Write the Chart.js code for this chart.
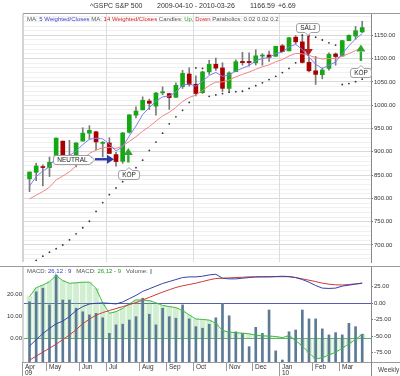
<!DOCTYPE html>
<html><head><meta charset="utf-8">
<script src="https://cdn.jsdelivr.net/npm/chart.js@4.4.1/dist/chart.umd.min.js"></script>
<style>
html,body{margin:0;padding:0;background:#fff;}
#wrap{position:relative;width:400px;height:376px;overflow:hidden;background:#fff;font-family:"Liberation Sans",Arial,sans-serif;color:#333;}
canvas{position:absolute;left:0;}
#c1{top:0;}
#c2{top:266px;}
.lbl{position:absolute;white-space:nowrap;font-size:6.5px;line-height:8px;color:#333;}
.g{color:#555}.b{color:#3838c8}.r{color:#d42020}.gr{color:#20a020}.vb{color:#5a7894}
</style></head>
<body><div id="wrap">
<canvas id="c1" width="400" height="266"></canvas>
<canvas id="c2" width="400" height="110"></canvas>
<div class="lbl" style="left:90px;top:2px;font-size:7px">^GSPC</div>
<div class="lbl" style="left:115px;top:2px;font-size:7px">S&amp;P 500</div>
<div class="lbl" style="left:157px;top:2px;font-size:7px">2009-04-10 - 2010-03-26</div>
<div class="lbl" style="left:250px;top:2px;font-size:7px">1166.59</div>
<div class="lbl" style="left:278px;top:2px;font-size:7px">+6.69</div>
<div class="lbl" style="left:27px;top:15px;font-size:6px"><span class="g">MA: </span><span class="b">5 Weighted/Closes</span><span class="g"> MA: </span><span class="r">14 Weighted/Closes</span><span class="g"> Candles: </span><span class="gr">Up</span><span class="g">, </span><span class="r">Down</span><span class="g"> Parabolics: 0.02 0.02 0.2</span></div>
<div class="lbl" style="left:27px;top:267px;font-size:6px"><span class="g">MACD: </span><span class="b">26,12 : 9</span><span class="g">&nbsp;&nbsp; MACD: </span><span class="gr">26,12 - 9</span><span class="g">&nbsp;&nbsp; Volume: </span><span class="vb">||</span></div>
</div>
<script>
// ---------- data ----------
const weeks = ['2009-04-10','2009-04-17','2009-04-24','2009-05-01','2009-05-08','2009-05-15','2009-05-22','2009-05-29','2009-06-05','2009-06-12','2009-06-19','2009-06-26','2009-07-03','2009-07-10','2009-07-17','2009-07-24','2009-07-31','2009-08-07','2009-08-14','2009-08-21','2009-08-28','2009-09-04','2009-09-11','2009-09-18','2009-09-25','2009-10-02','2009-10-09','2009-10-16','2009-10-23','2009-10-30','2009-11-06','2009-11-13','2009-11-20','2009-11-27','2009-12-04','2009-12-11','2009-12-18','2009-12-25','2010-01-01','2010-01-08','2010-01-15','2010-01-22','2010-01-29','2010-02-05','2010-02-12','2010-02-19','2010-02-26','2010-03-05','2010-03-12','2010-03-19','2010-03-26'];
const open  = [842.0,856.0,868.0,866.0,879.0,923.0,886.0,887.0,923.0,940.0,943.0,918.1,919.0,894.0,879.6,942.0,978.6,990.0,1008.9,998.0,1026.6,1025.0,1017.0,1040.0,1067.0,1045.0,1026.9,1071.6,1088.0,1080.0,1036.0,1072.0,1094.0,1094.0,1091.0,1105.5,1107.8,1105.0,1127.5,1116.6,1146.0,1136.0,1092.0,1073.9,1065.5,1079.0,1110.0,1105.4,1138.4,1148.5,1157.3];
const high  = [856.9,875.6,871.8,888.7,930.2,923.0,924.6,920.0,951.7,956.2,944.0,922.0,930.2,898.7,941.9,979.8,996.7,1018.0,1013.1,1027.6,1039.5,1025.0,1048.2,1074.8,1080.2,1063.0,1073.2,1096.6,1101.4,1091.2,1071.5,1097.4,1113.7,1112.4,1119.1,1110.7,1116.2,1126.5,1130.4,1145.4,1149.7,1150.5,1103.7,1104.7,1080.0,1112.4,1112.3,1139.0,1151.0,1169.2,1180.2];
const low   = [814.5,838.0,826.8,847.0,878.9,878.9,879.6,867.6,923.0,927.0,903.8,888.9,896.4,869.3,875.3,940.2,972.5,990.0,990.7,978.5,1022.5,991.0,1017.0,1036.0,1041.0,1020.0,1025.2,1066.0,1074.6,1029.4,1029.4,1072.0,1086.0,1083.7,1086.3,1085.9,1093.9,1105.0,1114.8,1116.6,1131.4,1090.2,1071.6,1044.5,1056.5,1075.5,1086.0,1105.4,1138.4,1141.5,1156.0];
const close = [856.6,869.6,866.2,877.5,929.2,882.9,887.0,919.1,940.1,946.2,921.2,918.9,896.4,879.1,940.4,979.3,987.5,1010.5,1004.1,1026.1,1028.9,1016.4,1042.7,1068.3,1044.4,1025.2,1071.5,1087.7,1079.6,1036.2,1069.3,1093.5,1091.4,1091.5,1106.0,1106.4,1102.5,1126.5,1115.1,1145.0,1136.0,1091.8,1073.9,1066.2,1075.5,1109.2,1104.5,1138.7,1150.0,1159.9,1166.6];
const wma5  = [826.3,846.8,858.7,867.8,890.0,891.1,891.7,901.9,915.5,927.0,929.1,927.8,916.9,901.8,911.1,933.8,955.4,980.0,994.9,1008.8,1018.0,1019.6,1028.1,1043.0,1045.7,1040.7,1051.4,1063.8,1070.5,1062.0,1065.1,1073.3,1079.4,1085.2,1095.1,1100.5,1102.0,1111.0,1113.9,1125.1,1130.7,1119.6,1103.3,1087.9,1078.9,1085.7,1092.8,1110.4,1127.5,1142.3,1153.6];
const wma14 = [798.8,806.9,814.7,824.0,839.6,848.1,857.1,869.7,883.7,896.6,903.6,908.8,909.5,907.2,912.7,922.5,932.4,944.3,954.0,965.9,976.9,984.8,995.3,1008.2,1016.8,1021.7,1031.7,1042.2,1049.6,1050.0,1054.2,1060.8,1066.4,1071.1,1077.2,1082.6,1086.6,1093.3,1097.8,1105.7,1111.3,1110.3,1106.9,1102.5,1099.1,1100.1,1100.4,1105.1,1110.8,1117.5,1124.5];
const sar   = [null,667,676,684.5,692,700,711,724,737,751,772,791,808,822.5,836,851,866,882,903,921,940,960,975,989,1006,1080,1079,1019,1022,1025,1028,1029,1030,1036,1042,1048,1055,1062,1070,1079,1091,1150.5,1149,1146,1140,1134,1129,1044.5,1046.5,1050.5,1056];
const volume = [27.1,31.6,33.2,25.7,39.2,27.9,27.9,24.2,22.6,21.2,21.9,19.9,12.9,16.7,17.0,18.9,20.4,28.7,21.5,16.7,24.2,20.4,19.7,25.7,19.4,15.9,15.2,17.0,19.9,26.4,20.8,13.6,12.9,6.9,15.6,12.9,23.4,5.0,0.9,13.6,14.4,23.4,19.4,19.4,14.9,12.2,13.2,12.2,17.4,15.9,12.5];
const macd   = [-64.7,-55,-46,-38,-31,-27,-20,-11,-5,-1,0,0.5,0,-1,2,7,12,18,22,26,30,33,36,39,40,40,41,43,44,38,37,37,38,39,40,40,40,40.5,41,40.5,39,36,32,27,23,22.5,23,26,27.5,29,30.5];
const signal = [-86,-80,-74,-68,-62,-55,-48,-40,-31,-24,-18,-14,-11,-8,-5,-2,1,5,9,13,17,20.5,24,26.5,28.5,30.5,33,35.5,37.5,38,38.5,39,39.5,40,40,40.2,40.3,40.3,40.3,40.3,39,37,35,33,30.5,29,28,27.7,28.5,29.5,30.5];
const hist   = [18.8,22.8,24.0,25.5,28.2,26.0,24.8,25.0,25.3,25.3,22.5,16.0,11.3,12.0,13.5,15.5,17.3,17.2,17.0,16.0,14.8,14.3,13.8,12.5,10.5,8.7,8.5,8.2,6.8,3.5,2.8,2.5,2.3,2.0,1.4,1.1,1.0,0.8,0.3,1.2,-1.0,-3.5,-6.5,-9.3,-8.8,-7.5,-6.3,-4.5,-2.5,-0.5,1.8];
const monthNames = ['Apr','May','Jun','Jul','Aug','Sep','Oct','Nov','Dec','Jan','Feb','Mar'];
const monthFirstWeek = [0,3,8,12,17,21,25,30,34,38,43,47];
const yearLabels = {'Apr':'09','Jan':'10'};
const quarterMonths = ['Jul','Oct','Jan'];
const priceLabels = [700,750,800,850,900,950,1000,1050,1100,1150];
const macdLabels = [-75,-50,-25,0,25];
const histLabels = [0,10,20];
// trading signals: text, arrow tail (week index, price), arrow tip (week index, price)
const sigText  = ['NEUTRAL','KÖP','SÄLJ','KÖP'];
const sigTailX = [9.84,14.85,41.9,49.8];
const sigTailY = [884,877,1149.4,1095];
const sigTipX  = [12.7,14.85,41.9,49.8];
const sigTipY  = [884,908,1105.6,1130.3];

// ---------- helpers ----------
Chart.defaults.font.family = '"Liberation Sans", Arial, sans-serif';
const pts = arr => arr.map((v,i)=>({x:i,y:v}));
const FONT = '6.5px "Liberation Sans", Arial, sans-serif';
const X_MIN = -0.83, X_MAX = 51.32;

function roundBox(ctx,x,y,w,h,r,side,cx,cy){
  const p=3;
  ctx.beginPath();
  ctx.moveTo(x+r,y);
  if(side==='top'){ctx.lineTo(cx-p,y);ctx.lineTo(cx,y-p);ctx.lineTo(cx+p,y);}
  ctx.lineTo(x+w-r,y);ctx.arcTo(x+w,y,x+w,y+r,r);
  if(side==='right'){ctx.lineTo(x+w,cy-p);ctx.lineTo(x+w+p,cy);ctx.lineTo(x+w,cy+p);}
  ctx.lineTo(x+w,y+h-r);ctx.arcTo(x+w,y+h,x+w-r,y+h,r);
  if(side==='bottom'){ctx.lineTo(cx+p,y+h);ctx.lineTo(cx,y+h+p);ctx.lineTo(cx-p,y+h);}
  ctx.lineTo(x+r,y+h);ctx.arcTo(x,y+h,x,y+h-r,r);
  ctx.lineTo(x,y+r);ctx.arcTo(x,y,x+r,y,r);
  ctx.closePath();
}
function callout(ctx,cx,cy,text,side){
  ctx.font=FONT;
  const w=Math.ceil(ctx.measureText(text).width)+7,h=9;
  const x=Math.round(cx-w/2)+0.5,y=Math.round(cy-h/2)+0.5;
  roundBox(ctx,x,y,w,h,2.5,side,x+w/2,y+h/2);
  ctx.fillStyle='#fff';ctx.fill();ctx.strokeStyle='#a0a0a0';ctx.lineWidth=1;ctx.stroke();
  ctx.fillStyle='#222';ctx.textAlign='center';ctx.textBaseline='middle';
  ctx.fillText(text,x+w/2,y+h/2+0.5);
  return w;
}
function arrow(ctx,x0,y0,x1,y1,color){
  const a=Math.atan2(y1-y0,x1-x0),hl=7,hw=4.5;
  const bx=x1-hl*Math.cos(a),by=y1-hl*Math.sin(a);
  ctx.strokeStyle=color;ctx.lineWidth=2.4;ctx.lineCap='butt';
  ctx.beginPath();ctx.moveTo(x0,y0);ctx.lineTo(bx,by);ctx.stroke();
  ctx.fillStyle=color;ctx.beginPath();ctx.moveTo(x1,y1);
  ctx.lineTo(bx+hw*Math.sin(a),by-hw*Math.cos(a));
  ctx.lineTo(bx-hw*Math.sin(a),by+hw*Math.cos(a));
  ctx.closePath();ctx.fill();
}

// ---------- top chart plugin ----------
const topDeco = {
  id:'topDeco',
  beforeDatasetsDraw(chart){
    const {ctx,chartArea:ca,scales:{x}} = chart;
    ctx.save();
    ctx.strokeStyle='#dcdcdc';ctx.lineWidth=1;
    monthNames.forEach((m,k)=>{
      if(!quarterMonths.includes(m)) return;
      const px=Math.round(x.getPixelForValue(monthFirstWeek[k]-0.5))+0.5;
      ctx.beginPath();ctx.moveTo(px,ca.top);ctx.lineTo(px,ca.bottom);ctx.stroke();
    });
    ctx.restore();
  },
  afterDraw(chart){
    const {ctx,chartArea:ca,scales:{x,y}} = chart;
    ctx.save();
    ctx.strokeStyle='#9a9a9a';ctx.lineWidth=1;
    ctx.beginPath();ctx.moveTo(ca.left-1,ca.top-0.5);ctx.lineTo(chart.width,ca.top-0.5);ctx.stroke();
    ctx.fillStyle='#d4d4d4';ctx.fillRect(ca.left-2,ca.top,2,ca.bottom-ca.top);
    sigText.forEach((t,i)=>{
      const x0=x.getPixelForValue(sigTailX[i]),y0=y.getPixelForValue(sigTailY[i]);
      const x1=x.getPixelForValue(sigTipX[i]),y1=y.getPixelForValue(sigTipY[i]);
      let col,side,cx,cy;
      if(Math.abs(y1-y0)<1){col='#2b3aa6';side='right';}
      else if(y1<y0){col='#2fa52f';side='top';}
      else {col='#b51a1a';side='bottom';}
      arrow(ctx,x0,y0,x1,y1,col);
      ctx.font=FONT;
      const w=Math.ceil(ctx.measureText(t).width)+7;
      if(side==='right'){cx=x0-4-w/2;cy=y0;}
      else if(side==='top'){cx=x0;cy=y0+12;}
      else {cx=x0-1;cy=y0-8;}
      callout(ctx,cx,cy,t,side);
    });
    ctx.restore();
  }
};

// ---------- bottom chart plugin ----------
const botDeco = {
  id:'botDeco',
  afterDraw(chart){
    const {ctx,chartArea:ca,scales:{x}} = chart;
    const H=chart.height,W=chart.width;
    ctx.save();
    ctx.strokeStyle='#9a9a9a';ctx.lineWidth=1;
    ctx.beginPath();ctx.moveTo(0,0.5);ctx.lineTo(W,0.5);ctx.stroke();
    ctx.beginPath();ctx.moveTo(ca.left-2,ca.bottom+0.5);ctx.lineTo(W,ca.bottom+0.5);ctx.stroke();
    ctx.fillStyle='#d4d4d4';ctx.fillRect(ca.left-2,1,2,ca.bottom-1);
    ctx.strokeStyle='#888';
    ctx.beginPath();ctx.moveTo(ca.right+0.5,ca.bottom);ctx.lineTo(ca.right+0.5,H);ctx.stroke();
    ctx.font=FONT;ctx.textBaseline='middle';ctx.textAlign='left';
    monthNames.forEach((m,k)=>{
      const px = k===0 ? ca.left-1.5 : Math.round(x.getPixelForValue(monthFirstWeek[k]-0.5))+0.5;
      const yr = yearLabels[m];
      ctx.strokeStyle='#999';
      ctx.beginPath();ctx.moveTo(px,ca.bottom);ctx.lineTo(px,yr?H:ca.bottom+9);ctx.stroke();
      ctx.fillStyle='#333';
      ctx.fillText(m,px+2.5,ca.bottom+5);
      if(yr) ctx.fillText(yr,px+2.5,ca.bottom+11.5);
    });
    ctx.fillStyle='#444';
    ctx.fillText('Weekly',ca.right+7,ca.bottom+8);
    ctx.restore();
  }
};

const tickFont = {size:6, family:'"Liberation Sans", Arial, sans-serif'};

// ---------- top chart ----------
new Chart(document.getElementById('c1'),{
  type:'line',
  data:{datasets:[
    {type:'line',label:'SAR',data:pts(sar),showLine:false,pointRadius:0.9,pointBorderWidth:0,pointBackgroundColor:'#333',order:0},
    {type:'line',label:'WMA5',data:pts(wma5),borderColor:'#7f7ff0',borderWidth:1,pointRadius:0,tension:0,order:1},
    {type:'line',label:'WMA14',data:pts(wma14),borderColor:'#f08585',borderWidth:1,pointRadius:0,tension:0,order:2},
    {type:'bar',label:'Body',data:open.map((o,i)=>({x:i,y:[o,close[i]]})),
      backgroundColor:close.map((c,i)=>c>=open[i]?'#14a814':'#a80000'),
      barThickness:4,minBarLength:1,grouped:false,borderWidth:0,order:3},
    {type:'bar',label:'Wick',data:low.map((l,i)=>({x:i,y:[l,high[i]]})),
      backgroundColor:'#7a7a7a',barThickness:1,grouped:false,borderWidth:0,order:4}
  ]},
  options:{
    responsive:false,animation:false,events:[],
    layout:{padding:{left:24,top:14,right:0,bottom:0}},
    plugins:{legend:{display:false},tooltip:{enabled:false}},
    scales:{
      x:{type:'linear',min:X_MIN,max:X_MAX,display:false,offset:false},
      y:{position:'right',min:663.5,max:1195.8,
        afterBuildTicks:s=>{const t=[];for(let v=670;v<=1190;v+=10)t.push({value:v});s.ticks=t;},
        ticks:{autoSkip:false,font:tickFont,color:'#333',padding:1,
          callback:v=>priceLabels.includes(v)?v.toFixed(2):''},
        grid:{color:c=>priceLabels.includes(c.tick.value)?'#d9d9d9':'#f0f0f0',tickLength:2,
          tickColor:c=>priceLabels.includes(c.tick.value)?'#777':'rgba(0,0,0,0)'},
        border:{display:true,color:'#888'},
        afterFit:s=>{s.width=29;s.paddingTop=0;s.paddingBottom=0;}
      }
    }
  },
  plugins:[topDeco]
});

// ---------- bottom chart ----------
new Chart(document.getElementById('c2'),{
  type:'line',
  data:{datasets:[
    {type:'line',label:'MACD',data:pts(macd),yAxisID:'yR',borderColor:'#3441a8',borderWidth:1,pointRadius:0,order:0},
    {type:'line',label:'Signal',data:pts(signal),yAxisID:'yR',borderColor:'#cc3a3a',borderWidth:1,pointRadius:0,order:1},
    {type:'line',label:'Hist',data:pts(hist),yAxisID:'yL',borderColor:'#3fba3f',borderWidth:1,pointRadius:0,order:2},
    {type:'bar',label:'Volume',data:pts(volume),yAxisID:'yV',backgroundColor:'#5b7a96',barThickness:2,grouped:false,borderWidth:0,order:3},
    {type:'bar',label:'HistBars',data:pts(hist),yAxisID:'yL',backgroundColor:'rgba(120,205,120,0.35)',barThickness:5,grouped:false,borderWidth:0,order:4}
  ]},
  options:{
    responsive:false,animation:false,events:[],
    layout:{padding:{left:0,top:0,right:0,bottom:14}},
    plugins:{legend:{display:false},tooltip:{enabled:false}},
    scales:{
      x:{type:'linear',min:X_MIN,max:X_MAX,display:false,offset:false},
      yL:{position:'left',min:-10.7,max:32.6,
        afterBuildTicks:s=>{s.ticks=histLabels.map(v=>({value:v}));},
        ticks:{font:tickFont,color:'#333',padding:2,callback:v=>v.toFixed(2)},
        grid:{color:c=>c.tick.value===0?'#5cb85c':'rgba(0,0,0,0)',drawTicks:false},
        border:{display:false},
        afterFit:s=>{s.width=24;s.paddingTop=0;s.paddingBottom=0;}
      },
      yR:{position:'right',min:-88.9,max:56.5,
        afterBuildTicks:s=>{s.ticks=macdLabels.map(v=>({value:v}));},
        ticks:{font:tickFont,color:'#333',padding:1,callback:v=>v.toFixed(2)},
        grid:{color:c=>c.tick.value===0?'#5a5ab0':'rgba(0,0,0,0)',tickLength:2,tickColor:'#777'},
        border:{display:true,color:'#888'},
        afterFit:s=>{s.width=29;s.paddingTop=0;s.paddingBottom=0;}
      },
      yV:{display:false,min:0,max:43.2}
    }
  },
  plugins:[botDeco]
});
</script>
</body></html>
